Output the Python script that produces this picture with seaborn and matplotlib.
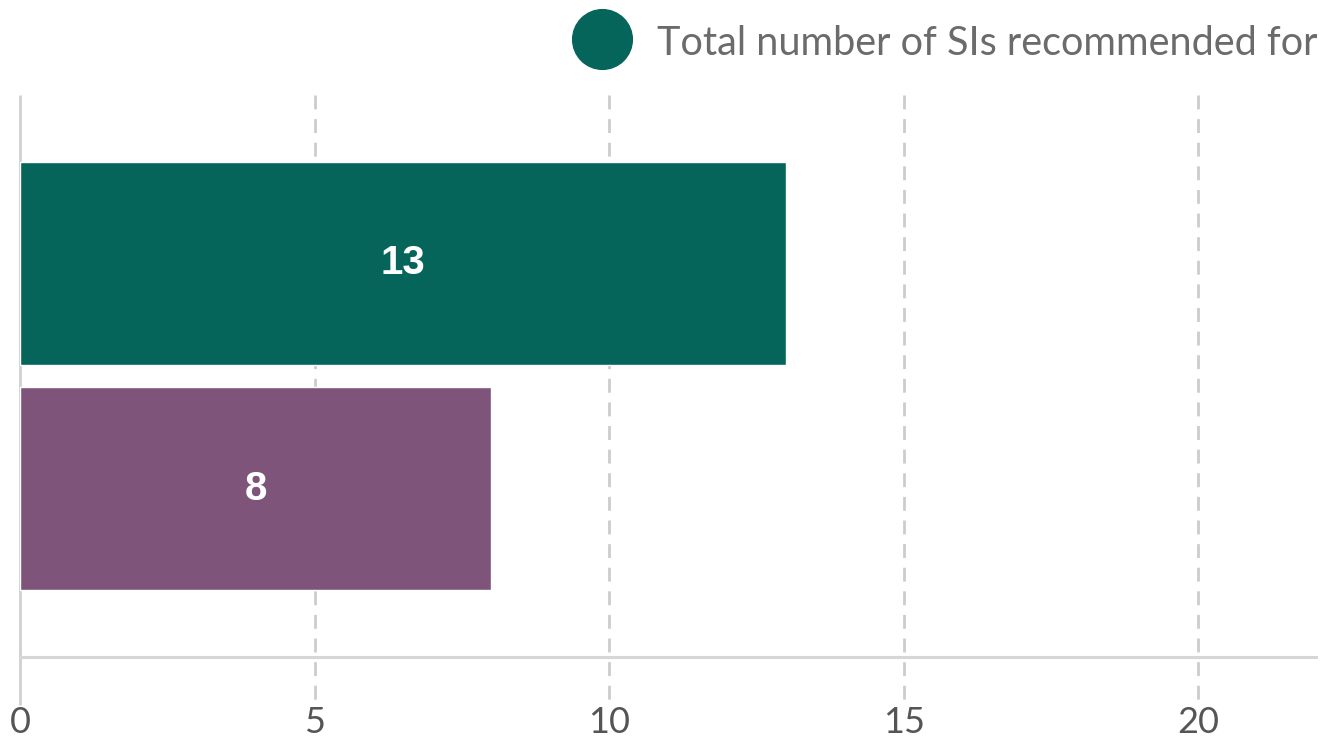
import matplotlib
matplotlib.use("Agg")
import matplotlib.pyplot as plt
from matplotlib.lines import Line2D
import seaborn as sns
import pandas as pd

# ---- data ----
series = ["Total number of SIs recommended for", "Second series"]
values = [13, 8]
colors = ["#06655A", "#7E547A"]
xticks = [0, 5, 10, 15, 20]
legend_label = "Total number of SIs recommended for"

df = pd.DataFrame({"series": series, "value": values})

sns.set_theme(style="white")
plt.rcParams["font.family"] = ["Lato", "DejaVu Sans"]

fig = plt.figure(figsize=(13.38, 7.44), dpi=100)
ax = fig.add_axes([20 / 1338, 1 - 657 / 744, 1296 / 1338, (657 - 95) / 744])

sns.barplot(data=df, y="series", x="value", hue="series", palette=colors,
            orient="h", width=0.9, saturation=1, legend=False, ax=ax, zorder=2)

for cont in ax.containers:
    ax.bar_label(cont, label_type="center", color="white", fontsize=29,
                 fontweight="bold", family=["Liberation Sans", "DejaVu Sans"])

ax.set_xlim(0, 22)
ax.set_ylim(1.745, -0.745)
ax.set_xticks(xticks)
ax.set_xticklabels([str(t) for t in xticks])
ax.tick_params(axis="x", length=0, pad=35, labelsize=26, labelcolor="#555555")
ax.tick_params(axis="y", left=False, labelleft=False)
ax.set_xlabel("")
ax.set_ylabel("")

for s in ["top", "right", "left"]:
    ax.spines[s].set_visible(False)
ax.spines["bottom"].set_color("#d6d6d6")
ax.spines["bottom"].set_linewidth(2.2)
ax.spines["bottom"].set_zorder(3)

trans = ax.get_xaxis_transform()
for t in xticks:
    if t == 0:
        ax.plot([t, t], [1, -0.085], transform=trans, color="#d0d0d0", lw=2.0,
                clip_on=False, zorder=1, solid_capstyle="butt")
    else:
        ax.plot([t, t], [1, -0.09], transform=trans, color="#cccccc", lw=2.0,
                linestyle=(0, (5, 3.5)), clip_on=False, zorder=0)

fs = 28.5
em = fs * 100 / 72
handle = Line2D([], [], marker="o", linestyle="none", markersize=43,
                markerfacecolor=colors[0], markeredgecolor=colors[0])
fig.legend([handle], [legend_label], loc="center left",
           bbox_to_anchor=(572 / 1338, 1 - 43 / 744), frameon=False,
           fontsize=fs, labelcolor="#6b6b6b", borderpad=0, borderaxespad=0,
           handlelength=60 / em, handletextpad=25 / em, handleheight=1)

fig.savefig("out.png", dpi=100)
